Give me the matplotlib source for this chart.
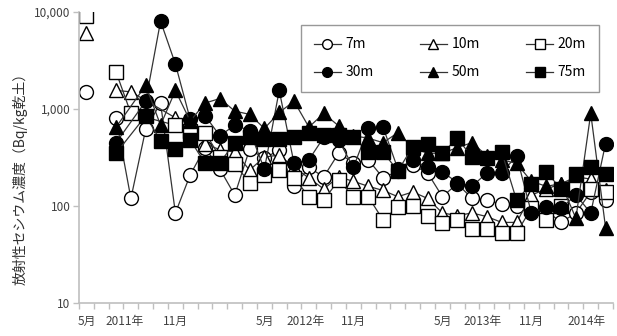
import numpy as np
import matplotlib.pyplot as plt
import matplotlib.transforms as mtransforms

plt.rcParams['font.family'] = ['Noto Sans CJK JP', 'DejaVu Sans']

nan = np.nan

# monthly sampling, May 2011 (index 0) .. April 2014 (index 35)
n_months = 36

month_labels = ['5月', '11月', '5月', '11月', '5月', '11月']
month_label_pos = [0, 6, 12, 18, 24, 30]
year_labels = ['2011年', '2012年', '2013年', '2014年']
year_label_pos = [2.55, 14.8, 26.7, 33.7]

# first survey (index 0), plotted as separate points
first_7m = 1500
first_10m = 6000
first_20m = 9000

# index 2 .. 35 (Jul 2011 .. Apr 2014), Bq/kg dry soil
depth_7m = [800, 120, 620, 1150, 85, 210, 400, 240, 130, 385, 310, 380, 160, 250, 200,
            350, 280, 300, 195, 230, 265, 220, 125, 170, 120, 115, 105, 100, 100, 90,
            68, 85, 140, 115]
depth_10m = [1550, 1500, nan, nan, 810, 600, 440, 380, 360, 235, 320, 335, 250, 195, 150,
             200, 180, 160, 145, 125, 140, 120, 85, 80, 85, 78, 68, 68, 130, 150,
             170, 200, 190, 145]
depth_20m = [2400, 900, nan, nan, 680, 600, 570, 320, 270, 175, 210, 235, 195, 125, 115,
             185, 125, 125, 72, 98, 100, 80, 67, 72, 58, 58, 53, 53, 95, 72,
             100, 150, 150, 140]
depth_30m = [450, nan, 1200, 8000, 2900, 780, 850, 530, 680, 600, 240, 1550, 275, 300, 510,
             480, 250, 630, 650, 240, 300, 250, 225, 175, 160, 220, 220, 330, 85, 98,
             95, 130, 85, 440]
depth_50m = [650, nan, 1750, 680, 1550, 750, 1150, 1280, 950, 880, 630, 920, 1200, 650, 900,
             670, 530, 500, 450, 570, 400, 350, 350, 400, 450, 330, 300, 275, 180, 160,
             170, 75, 900, 60]
depth_75m = [350, nan, 850, 470, 390, 480, 275, 280, 450, 510, 490, 490, 510, 560, 540,
             540, 510, 360, 360, 230, 410, 440, 350, 500, 320, 310, 360, 115, 170, 225,
             150, 215, 250, 215]

series = [
    ('7m', depth_7m, first_7m, 'o', 'white', 10),
    ('10m', depth_10m, first_10m, '^', 'white', 10),
    ('20m', depth_20m, first_20m, 's', 'white', 9.5),
    ('30m', depth_30m, None, 'o', 'black', 10),
    ('50m', depth_50m, None, '^', 'black', 10),
    ('75m', depth_75m, None, 's', 'black', 9.5),
]

fig = plt.figure(figsize=(6.17, 3.36), dpi=100)
ax = fig.add_axes([0.128, 0.0973, 0.8655, 0.8677])

x = np.arange(2, n_months)
handles = []
for name, vals, first, mk, fc, ms in series:
    vals = np.array(vals, dtype=float)
    ok = ~np.isnan(vals)
    h, = ax.plot(x[ok], vals[ok], color='#333333', lw=0.9, marker=mk, ms=ms,
                 mfc=fc, mec='black', mew=1.0, label=name)
    handles.append(h)
    if first is not None:
        ax.plot([0], [first], ls='none', marker=mk, ms=ms, mfc=fc, mec='black', mew=1.0)

ax.set_yscale('log')
ax.set_ylim(10, 10000)
ax.set_yticks([10, 100, 1000, 10000])
ax.set_yticklabels(['10', '100', '1,000', '10,000'])
ax.minorticks_off()
ax.set_xlim(-0.5, n_months - 0.5)
ax.set_xticks(np.arange(-0.5, n_months, 1.0))
ax.set_xticklabels([])

for side in ['top', 'right']:
    ax.spines[side].set_visible(False)
for side in ['left', 'bottom']:
    ax.spines[side].set_color('#bfbfbf')
    ax.spines[side].set_linewidth(1.2)
ax.tick_params(axis='both', direction='out', length=4, color='#bfbfbf', width=1)
ax.tick_params(axis='y', labelsize=8.5, labelcolor='#404040', pad=2)

# category labels under the axis
trans = mtransforms.blended_transform_factory(ax.transData, fig.transFigure)
for lab, pos in zip(month_labels, month_label_pos):
    ax.text(pos, 0.042, lab, transform=trans, ha='center', va='center',
            fontsize=8.5, color='#404040')
for lab, pos in zip(year_labels, year_label_pos):
    ax.text(pos, 0.042, lab, transform=trans, ha='center', va='center',
            fontsize=8.5, color='#404040')

ax.set_ylabel('放射性セシウム濃度（Bq/kg乾土）', fontsize=10, color='#303030')
ax.yaxis.set_label_coords(-0.097, 0.44)

# legend filled row by row: 7m 10m 20m / 30m 50m 75m
order = [0, 3, 1, 4, 2, 5]
leg = ax.legend([handles[i] for i in order], [series[i][0] for i in order],
                ncol=3, loc='upper left', bbox_to_anchor=(301 / 617, 1 - 25 / 336),
                bbox_transform=fig.transFigure, borderaxespad=0, fontsize=10,
                markerscale=0.7, handlelength=2.0, columnspacing=3.3, labelspacing=1.0,
                fancybox=False, edgecolor='#7f7f7f', borderpad=0.9, handletextpad=0.3)
leg.get_frame().set_linewidth(1.0)

fig.savefig('out.png', dpi=100)
